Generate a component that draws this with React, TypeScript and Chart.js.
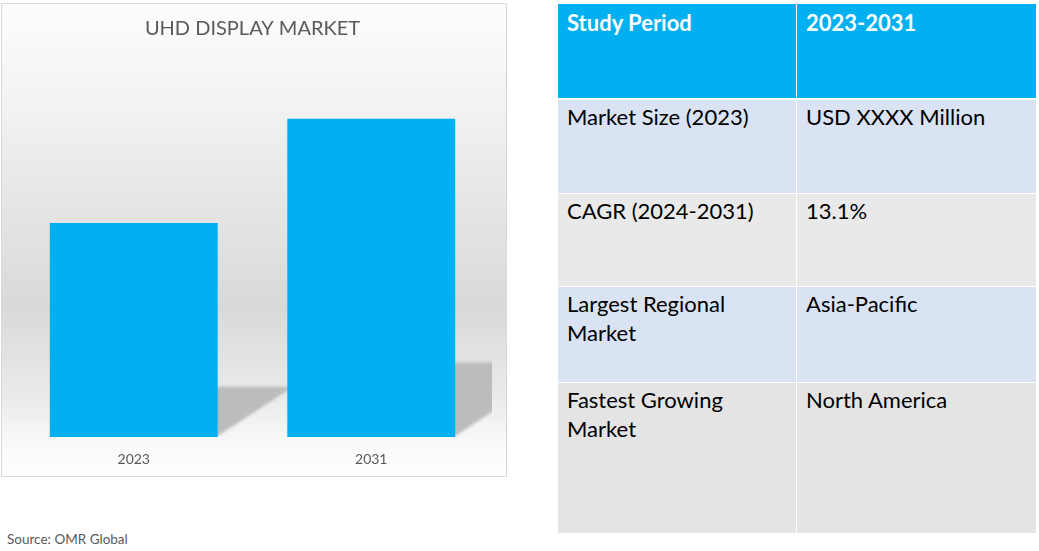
import React, { useEffect, useRef } from "react";
import { Chart, registerables } from "chart.js";

Chart.register(...registerables);

const chartTitle = "UHD DISPLAY MARKET";
const categories = ["2023", "2031"];
const marketValues = [5.74, 8.53];
const yMax = 10;
const sourceText = "Source: OMR Global";

const tableHeader = ["Study Period", "2023-2031"];
const rowLabels = ["Market Size (2023)", "CAGR (2024-2031)", "Largest Regional Market", "Fastest Growing Market"];
const rowValues = ["USD XXXX Million", "13.1%", "Asia-Pacific", "North America"];

const FONT = "Lato, 'Open Sans', sans-serif";

const shadowPlugin = {
  id: "floorShadow",
  beforeDatasetsDraw(chart: any) {
    const ctx = chart.ctx;
    const meta = chart.getDatasetMeta(0);
    const area = chart.chartArea;
    ctx.save();
    ctx.beginPath();
    ctx.rect(area.left, area.top, area.right - area.left + 2, area.bottom - area.top);
    ctx.clip();
    ctx.filter = "blur(1.5px)";
    meta.data.forEach((bar: any) => {
      const p = bar.getProps(["x", "y", "base", "width"], true);
      const L = p.x - p.width / 2;
      const R = p.x + p.width / 2;
      const H = p.base - p.y;
      const h = H * 0.235;
      const dx = h * 1.5;
      ctx.beginPath();
      ctx.moveTo(L, p.base - 1);
      ctx.lineTo(R, p.base - 1);
      ctx.lineTo(R + dx, p.base - h);
      ctx.lineTo(L + dx, p.base - h);
      ctx.closePath();
      ctx.fillStyle = "#bcbcbc";
      ctx.fill();
    });
    ctx.restore();
  },
};

function BarChart() {
  const ref = useRef<HTMLCanvasElement | null>(null);
  useEffect(() => {
    if (!ref.current) return;
    const chart = new Chart(ref.current, {
      type: "bar",
      data: {
        labels: categories,
        datasets: [
          {
            data: marketValues,
            backgroundColor: "#00b0f0",
            borderWidth: 0,
            barPercentage: 1,
            categoryPercentage: 0.707,
          },
        ],
      },
      options: {
        responsive: false,
        animation: false,
        layout: { padding: { left: 13, right: 16, top: 0, bottom: 8 } },
        plugins: {
          legend: { display: false },
          tooltip: { enabled: false },
          title: {
            display: true,
            text: chartTitle,
            color: "#595959",
            font: { family: FONT, size: 20, weight: "normal" },
            padding: { top: 13, bottom: 23 },
          },
        },
        scales: {
          x: {
            grid: { display: false, drawTicks: false },
            border: { display: false },
            ticks: { color: "#595959", font: { family: FONT, size: 14 }, padding: 14 },
            afterFit: (scale: any) => {
              scale.height = 31;
            },
          },
          y: { display: false, min: 0, max: yMax },
        },
      },
      plugins: [shadowPlugin],
    } as any);
    return () => chart.destroy();
  }, []);
  return <canvas ref={ref} width={504} height={472} style={{ display: "block" }} />;
}

const colLeft = { x: 558, w: 238 };
const colRight = { x: 797, w: 239 };
const headerRow = { y: 4, h: 94 };
const bodyRows = [
  { y: 100, h: 93 },
  { y: 194, h: 92 },
  { y: 287, h: 95 },
  { y: 383, h: 150 },
];
const rowColors = ["#dae3f3", "#e9e9e9", "#dae3f3", "#e4e4e4"];

function Cell(props: { x: number; y: number; w: number; h: number; bg: string; text: string; header?: boolean }) {
  const { x, y, w, h, bg, text, header } = props;
  return (
    <div
      style={{
        position: "absolute",
        left: x,
        top: y,
        width: w,
        height: h,
        background: bg,
        boxSizing: "border-box",
        padding: header ? "4px 12px 0 9px" : "2px 10px 0 9px",
        fontFamily: FONT,
        fontSize: 22,
        fontWeight: header ? 700 : 400,
        lineHeight: "29px",
        color: header ? "#ffffff" : "#000000",
      }}
    >
      {text}
    </div>
  );
}

export default function App() {
  return (
    <div style={{ position: "absolute", left: 0, top: 0, width: 1039, height: 551, background: "#ffffff", overflow: "hidden" }}>
      <div
        style={{
          position: "absolute",
          left: 1,
          top: 3,
          width: 506,
          height: 474,
          boxSizing: "border-box",
          border: "1px solid #d9d9d9",
          background:
            "linear-gradient(to bottom, #fdfdfd 0%, #f3f3f3 20%, #d9d9d9 64%, #ebebeb 84%, #f9f9f9 93%, #ffffff 100%)",
        }}
      >
        <BarChart />
      </div>
      <div
        style={{
          position: "absolute",
          left: 7,
          top: 530,
          fontFamily: FONT,
          fontSize: 13.5,
          color: "#595959",
          lineHeight: "18px",
        }}
      >
        {sourceText}
      </div>
      <Cell x={colLeft.x} y={headerRow.y} w={colLeft.w} h={headerRow.h} bg="#00b0f0" text={tableHeader[0]} header />
      <Cell x={colRight.x} y={headerRow.y} w={colRight.w} h={headerRow.h} bg="#00b0f0" text={tableHeader[1]} header />
      {bodyRows.map((r, i) => (
        <React.Fragment key={i}>
          <Cell x={colLeft.x} y={r.y} w={colLeft.w} h={r.h} bg={rowColors[i]} text={rowLabels[i]} />
          <Cell x={colRight.x} y={r.y} w={colRight.w} h={r.h} bg={rowColors[i]} text={rowValues[i]} />
        </React.Fragment>
      ))}
    </div>
  );
}
